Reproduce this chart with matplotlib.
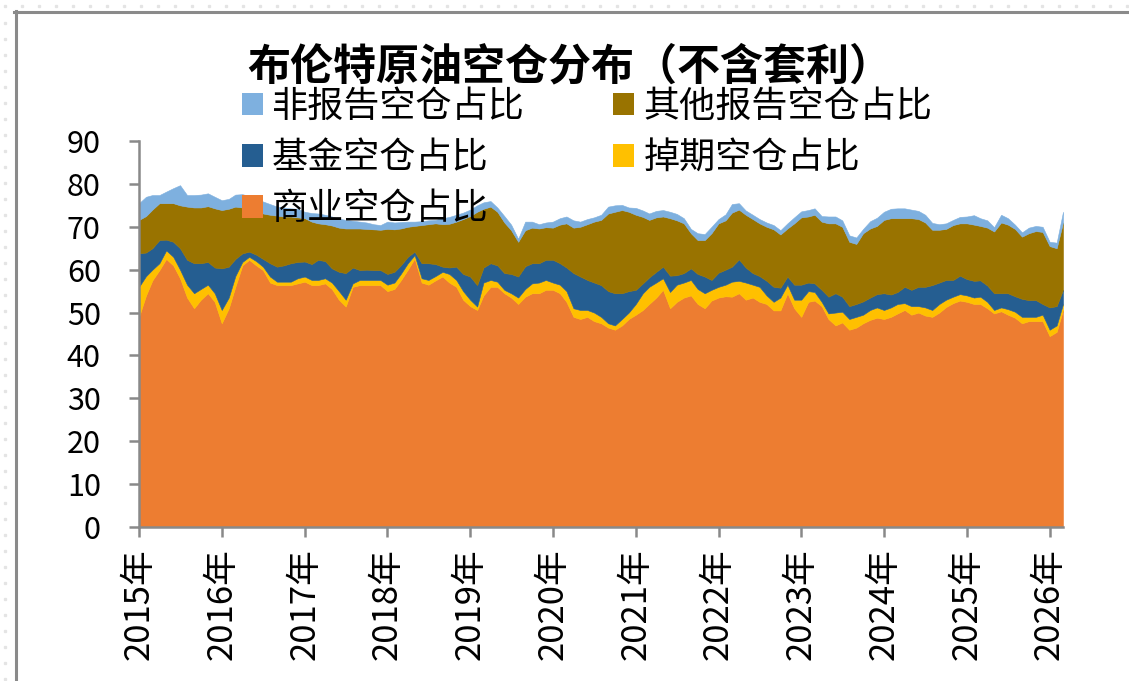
import matplotlib
matplotlib.use("Agg")
import numpy as np
import pandas as pd
import matplotlib.pyplot as plt
from matplotlib.patches import Patch
from matplotlib.lines import Line2D

plt.rcParams['font.family'] = ['Noto Sans CJK SC', 'DejaVu Sans']

# Monthly share of Brent short positions by trader category (%), Jan 2015 - Mar 2026
commercial = [
    49.0, 54.0, 57.5, 59.9, 62.5, 61.0, 58.0, 53.5, 51.0, 53.0, 54.5, 52.5,
    47.5, 51.0, 56.0, 61.0, 62.3, 61.0, 59.9, 57.0, 56.4, 56.4, 56.4, 56.8,
    57.2, 56.4, 56.4, 56.8, 55.5, 53.0, 51.4, 56.0, 56.4, 56.4, 56.4, 56.4,
    55.0, 55.5, 57.5, 60.0, 62.6, 57.0, 56.5, 57.5, 58.4, 57.0, 56.0, 53.0,
    51.5, 50.6, 54.0, 56.0, 56.0, 54.5, 53.5, 52.0, 53.7, 54.5, 54.5, 55.3,
    55.3, 54.5, 52.5, 49.0, 48.5, 49.0, 48.0, 47.5, 46.5, 46.0, 47.0, 48.5,
    49.5, 50.6, 52.0, 53.5, 55.3, 51.0, 52.5, 53.5, 54.0, 52.0, 51.0, 52.8,
    53.5, 53.8, 53.7, 54.5, 53.0, 53.5, 52.5, 52.0, 50.5, 50.5, 54.5, 51.0,
    49.0, 52.5, 52.8, 51.5, 48.5, 47.0, 47.7, 46.0, 46.5, 47.5, 48.3, 48.8,
    48.5, 49.0, 49.8, 50.6, 49.5, 50.0, 49.3, 49.0, 50.0, 51.3, 52.2, 52.8,
    52.5, 52.0, 52.0, 51.0, 49.8, 50.3, 49.5, 48.8, 47.5, 48.0, 48.0, 48.0,
    44.5, 45.5, 50.6,
]
swap = [
    7.0, 4.5, 2.5, 1.6, 2.0, 2.0, 2.0, 3.0, 3.5, 2.5, 2.0, 2.0,
    3.1, 2.5, 2.5, 0.8, 0.7, 1.0, 0.8, 1.4, 0.8, 0.8, 0.8, 1.2,
    1.2, 1.2, 1.2, 1.2, 1.5, 2.0, 1.6, 0.8, 1.2, 1.2, 1.2, 1.2,
    1.5, 1.5, 1.5, 1.5, 0.8, 1.0, 1.1, 1.0, 1.1, 2.0, 1.6, 2.0,
    1.5, 0.8, 3.0, 1.6, 1.2, 0.8, 1.0, 1.5, 1.8, 2.3, 2.5, 2.3,
    1.7, 2.0, 2.5, 2.0, 2.1, 1.6, 2.0, 1.5, 1.0, 1.0, 1.5, 1.5,
    2.5, 3.9, 4.0, 3.5, 2.7, 3.8, 4.0, 3.5, 3.6, 3.5, 3.5, 2.5,
    2.5, 2.7, 3.5, 2.9, 4.0, 3.0, 3.5, 2.0, 2.0, 3.0, 2.0, 2.0,
    4.0, 2.5, 2.0, 1.0, 1.3, 3.0, 2.5, 2.5, 2.5, 2.0, 2.3, 2.4,
    2.1, 2.2, 2.2, 1.6, 2.0, 1.5, 1.9, 1.6, 2.0, 1.7, 1.5, 1.5,
    1.5, 1.5, 1.7, 1.5, 0.8, 0.9, 1.3, 1.4, 1.5, 1.0, 1.0, 1.5,
    1.5, 1.5, 1.4,
]
fund = [
    7.8, 5.5, 5.0, 5.4, 2.5, 3.5, 5.0, 5.8, 7.0, 6.0, 5.3, 6.0,
    9.7, 7.2, 4.0, 2.0, 1.2, 1.5, 1.8, 3.1, 3.5, 3.8, 4.3, 3.8,
    3.5, 3.7, 4.7, 4.0, 3.3, 4.5, 6.2, 3.7, 2.3, 2.4, 2.3, 2.3,
    2.5, 2.5, 2.0, 1.5, 0.8, 3.5, 3.9, 2.8, 1.2, 1.5, 3.1, 4.0,
    5.4, 5.0, 3.5, 3.9, 3.8, 3.9, 4.5, 4.9, 5.3, 4.7, 4.5, 4.7,
    5.3, 5.0, 5.5, 8.2, 7.8, 7.0, 7.0, 7.4, 7.5, 7.5, 6.0, 5.0,
    3.3, 2.3, 2.2, 2.5, 2.7, 3.8, 2.2, 2.2, 2.7, 3.5, 3.9, 2.3,
    3.3, 3.5, 3.5, 5.0, 3.5, 2.7, 2.5, 3.4, 3.5, 2.3, 1.9, 3.5,
    3.5, 2.0, 2.0, 2.8, 3.9, 4.5, 3.5, 3.0, 3.0, 3.1, 2.9, 3.1,
    3.9, 3.0, 2.8, 3.8, 3.8, 4.5, 4.8, 5.8, 5.0, 4.6, 3.9, 4.3,
    3.8, 3.9, 3.8, 3.8, 3.9, 3.3, 3.7, 3.6, 4.2, 3.9, 3.9, 2.5,
    5.2, 4.5, 3.3,
]
other_reported = [
    7.8, 8.5, 9.0, 8.6, 8.5, 9.0, 10.0, 12.4, 13.0, 13.0, 13.0, 13.8,
    13.6, 13.5, 12.2, 10.7, 9.8, 10.0, 10.6, 11.3, 11.9, 11.4, 10.9, 10.4,
    10.1, 9.9, 8.5, 8.6, 10.0, 10.3, 10.4, 9.1, 9.7, 9.5, 9.5, 9.4,
    10.5, 9.9, 8.6, 7.0, 6.0, 8.9, 9.1, 9.5, 9.9, 10.2, 10.5, 12.8,
    14.1, 17.1, 13.7, 13.2, 12.5, 11.8, 10.2, 8.1, 8.4, 8.3, 8.1, 7.6,
    7.5, 9.0, 10.3, 10.6, 11.6, 13.0, 14.2, 15.2, 18.1, 19.0, 19.4, 18.5,
    17.5, 15.5, 13.4, 12.7, 11.7, 13.4, 12.8, 11.6, 8.2, 7.9, 8.5, 10.9,
    11.5, 11.5, 12.6, 11.6, 12.3, 12.6, 12.3, 12.6, 13.4, 12.4, 11.2, 14.3,
    15.7, 15.4, 16.0, 15.9, 17.1, 16.3, 16.3, 15.0, 14.0, 15.9, 16.1, 15.9,
    17.1, 17.8, 17.2, 16.0, 16.7, 15.8, 15.0, 12.9, 12.3, 11.9, 12.8, 12.2,
    13.0, 13.1, 12.7, 13.5, 14.4, 16.5, 16.0, 15.7, 14.5, 15.6, 16.1, 16.8,
    14.3, 13.5, 15.7,
]
non_reported = [
    3.9, 4.5, 3.4, 1.9, 2.7, 3.5, 4.7, 2.7, 2.9, 3.0, 3.0, 2.7,
    2.3, 2.3, 2.8, 3.1, 3.2, 3.0, 2.8, 2.5, 2.1, 2.1, 1.9, 2.0,
    1.5, 2.0, 2.3, 2.2, 2.1, 2.1, 2.0, 1.8, 1.6, 1.5, 1.2, 1.1,
    1.7, 1.6, 1.5, 1.2, 1.0, 0.9, 0.9, 0.8, 1.4, 1.6, 1.6, 1.5,
    1.5, 1.5, 1.5, 1.3, 1.0, 1.5, 1.3, 0.7, 2.0, 1.4, 1.0, 1.1,
    1.4, 1.5, 1.6, 1.7, 1.2, 1.2, 1.0, 1.2, 1.6, 1.5, 1.2, 1.0,
    1.6, 1.5, 1.5, 1.5, 1.5, 1.5, 1.5, 1.2, 1.0, 1.6, 1.4, 1.5,
    1.0, 1.4, 2.0, 1.5, 1.0, 1.0, 1.0, 1.0, 1.0, 1.0, 1.2, 1.4,
    1.4, 1.5, 1.5, 1.3, 1.6, 1.6, 1.5, 1.5, 1.5, 1.0, 1.7, 1.9,
    1.9, 2.2, 2.3, 2.3, 2.0, 1.9, 1.8, 1.6, 1.3, 1.3, 1.2, 1.5,
    1.6, 2.2, 1.8, 1.7, 1.0, 1.8, 1.5, 1.0, 1.0, 1.3, 1.2, 1.2,
    1.0, 1.3, 2.5,
]

years = list(range(2015, 2027))
year_labels = [f'{y}年' for y in years]

c_com = '#ED7D31'
c_swap = '#FFC000'
c_fund = '#255E91'
c_other = '#997300'
c_nonrep = '#7EB0DF'
grey = '#898989'

dates = pd.date_range('2015-01-01', periods=len(commercial), freq='MS')

fig = plt.figure(figsize=(11.29, 6.81), dpi=100)
ax = fig.add_axes([0.12312, 0.22614, 0.81842, 0.56681])

colors = [c_com, c_swap, c_fund, c_other, c_nonrep]
polys = ax.stackplot(dates, commercial, swap, fund, other_reported, non_reported,
                     colors=colors, linewidth=0.4)
for p, c in zip(polys, colors):
    p.set_edgecolor(c)

ax.set_ylim(0, 90)
ax.set_yticks(range(0, 91, 10))
ax.set_xlim(dates[0], dates[-1])
ax.set_xticks(pd.to_datetime([f'{y}-01-01' for y in years]))
ax.set_xticklabels(year_labels, rotation=90, ha='center', va='top')

for side in ('top', 'right'):
    ax.spines[side].set_visible(False)
for side in ('left', 'bottom'):
    ax.spines[side].set_color(grey)
    ax.spines[side].set_linewidth(1.8)
ax.tick_params(axis='both', direction='out', length=7.5, width=1.8, color=grey)
ax.tick_params(axis='y', labelsize=22, pad=20)
ax.tick_params(axis='x', labelsize=25, pad=8)

handles = [
    Patch(facecolor=c_nonrep, label='非报告空仓占比'),
    Patch(facecolor=c_fund, label='基金空仓占比'),
    Patch(facecolor=c_com, label='商业空仓占比'),
    Patch(facecolor=c_other, label='其他报告空仓占比'),
    Patch(facecolor=c_swap, label='掉期空仓占比'),
]
fig.legend(handles=handles, ncol=2, loc='upper left',
           bbox_to_anchor=(242 / 1129, 1 - 89 / 681),
           frameon=False, fontsize=26, handlelength=0.58, handleheight=0.58,
           handletextpad=0.25, columnspacing=2.45, labelspacing=0.42,
           borderpad=0, borderaxespad=0)

fig.text(570 / 1129, 1 - 66 / 681, '布伦特原油空仓分布（不含套利）',
         ha='center', va='center', fontsize=31, fontweight='bold')

# chart frame (left and top edges) and faint sheet gridline dots
fig.add_artist(Line2D([15.5 / 1129, 15.5 / 1129], [0, 1 - 11 / 681],
                      transform=fig.transFigure, color='#8a8a8a', lw=2.2))
fig.add_artist(Line2D([14.5 / 1129, 1], [1 - 12 / 681, 1 - 12 / 681],
                      transform=fig.transFigure, color='#8a8a8a', lw=2.2))
dx = np.arange(5, 1129, 17)
fig.add_artist(Line2D(dx / 1129, np.full(dx.size, 1 - 6 / 681), transform=fig.transFigure,
                      ls='none', marker='s', ms=1.4, color='#e4e4e4'))
dy = np.arange(23, 681, 16)
fig.add_artist(Line2D(np.full(dy.size, 5 / 1129), 1 - dy / 681, transform=fig.transFigure,
                      ls='none', marker='s', ms=1.4, color='#e4e4e4'))

fig.savefig('out.png', dpi=100)
